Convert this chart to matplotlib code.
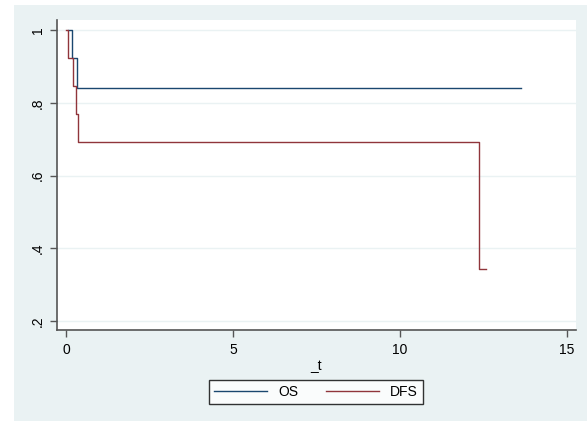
import matplotlib.pyplot as plt
from matplotlib.patches import Rectangle

plt.rcParams['font.family'] = ['Liberation Sans', 'DejaVu Sans']

# Kaplan-Meier step data (time, survival)
os_t = [0.07, 0.19, 0.34, 13.62]
os_s = [1.0, 0.923, 0.840, 0.840]
dfs_t = [0.0, 0.07, 0.22, 0.29, 0.35, 12.37, 12.57]
dfs_s = [1.0, 0.923, 0.846, 0.769, 0.692, 0.344, 0.344]

xticks = [0, 5, 10, 15]
yticks = [0.2, 0.4, 0.6, 0.8, 1.0]
ytick_labels = [".2", ".4", ".6", ".8", "1"]

bg = "#EAF2F3"
os_color = "#1A476F"
dfs_color = "#90353B"

fig = plt.figure(figsize=(5.87, 4.21), dpi=100)
fig.patches.append(Rectangle((14 / 587, 0), 1, 1 - 5 / 421, transform=fig.transFigure,
                             facecolor=bg, edgecolor="none", zorder=-10))

ax = fig.add_axes([57 / 587, 1 - 330 / 421, (576 - 57) / 587, (330 - 20) / 421])
ax.set_facecolor("white")

ax.step(os_t, os_s, where="post", color=os_color, lw=1.0, label="OS")
ax.step(dfs_t, dfs_s, where="post", color=dfs_color, lw=1.0, label="DFS")

ax.set_xlim(-0.27, 15.27)
ax.set_ylim(0.176, 1.0275)
ax.set_xticks(xticks)
ax.set_yticks(yticks)
ax.set_yticklabels(ytick_labels, rotation=90, va="center")
ax.tick_params(axis="both", labelsize=10, length=5, width=1, color="#555555", pad=4)
ax.grid(axis="y", color=bg, lw=1)
ax.set_axisbelow(True)

for side in ["top", "right"]:
    ax.spines[side].set_visible(False)
for side in ["left", "bottom"]:
    ax.spines[side].set_color("#555555")
    ax.spines[side].set_linewidth(1.2)

ax.set_xlabel("_t", fontsize=10, labelpad=2)

leg = fig.legend(loc="center", bbox_to_anchor=(316 / 587, 1 - 392 / 421), ncol=2,
                 frameon=True, fancybox=False, fontsize=10, handlelength=3.8,
                 columnspacing=2.0, borderpad=0.35)
leg.get_frame().set_edgecolor("black")
leg.get_frame().set_linewidth(1.0)

fig.savefig("out.png", dpi=100)
